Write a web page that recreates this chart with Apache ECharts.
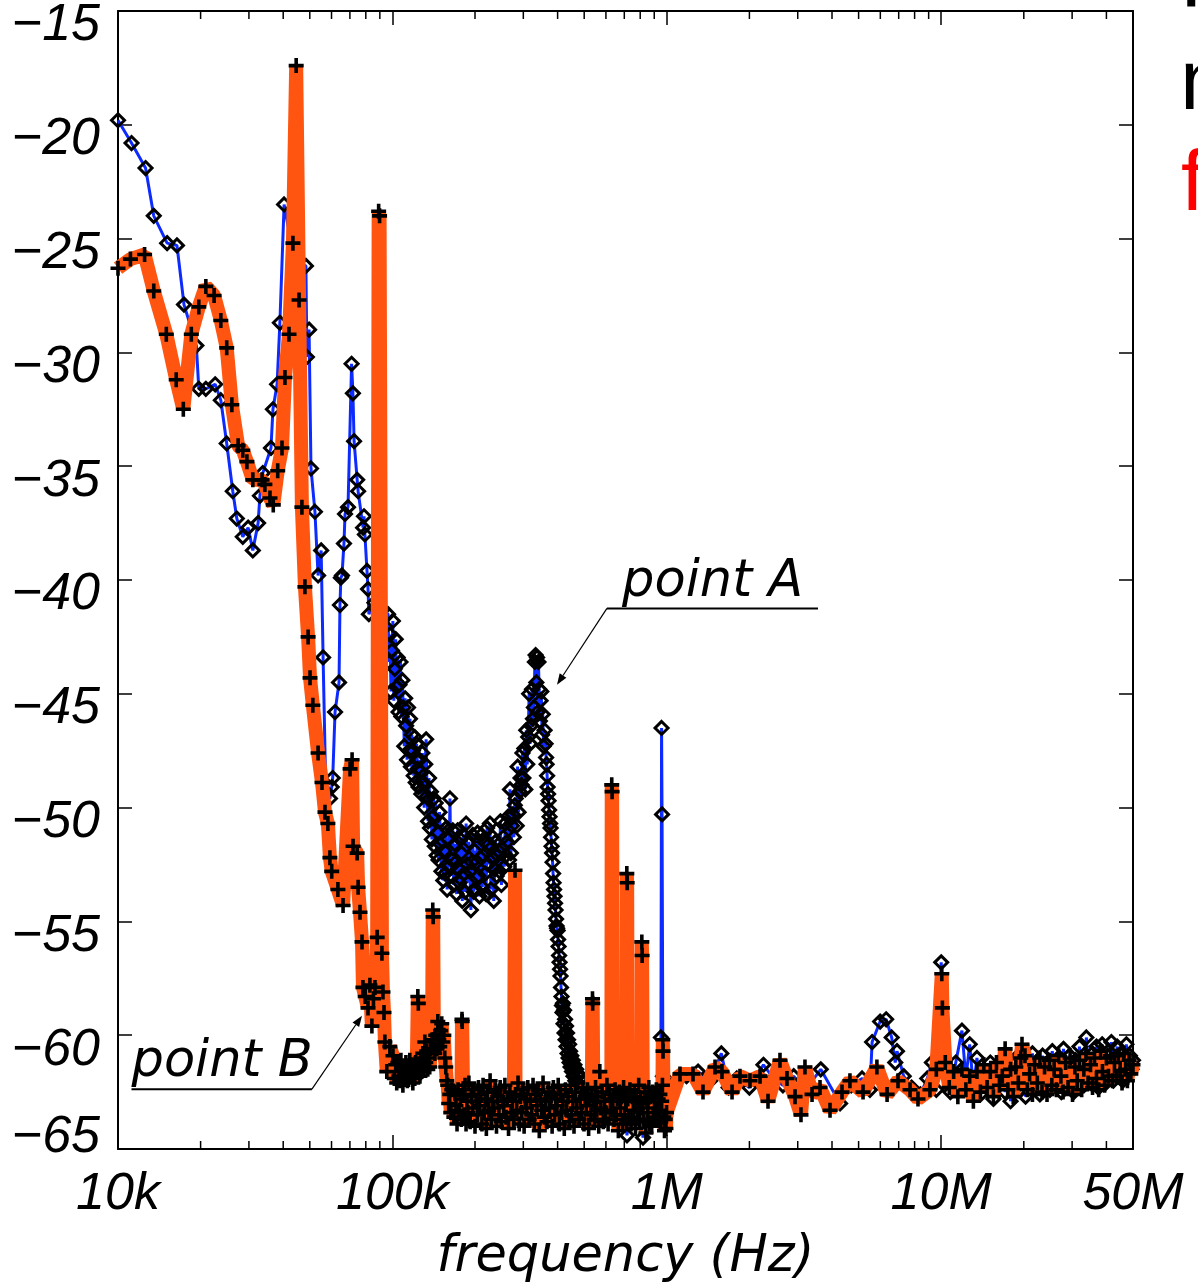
<!DOCTYPE html>
<html>
<head>
<meta charset="utf-8">
<script src="https://cdn.jsdelivr.net/npm/echarts@6/dist/echarts.min.js"></script>
<style>
  html, body { margin: 0; padding: 0; background: #ffffff; }
  #chart { width: 1198px; height: 1288px; }
</style>
</head>
<body>
<div id="chart"></div>
<script>
// Axis ranges and tick positions
const freqMin = 1e4;
const freqMax = 5e7;
const levelMin = -65;
const levelMax = -15;
const levelStep = 5;
const minorTickFreqs = [
  2e4, 3e4, 4e4, 5e4, 6e4, 7e4, 8e4, 9e4,
  2e5, 3e5, 4e5, 5e5, 6e5, 7e5, 8e5, 9e5,
  2e6, 3e6, 4e6, 5e6, 6e6, 7e6, 8e6, 9e6,
  2e7, 3e7, 4e7
];

// Blue trace (diamonds): [frequency kHz, level dB]
const noiseA = [
  [10.0,-19.8],[11.2,-20.8],[12.6,-21.9],[13.5,-24.0],[15.1,-25.2],[16.4,-25.3],[17.4,-27.9],
  [19.3,-29.7],[19.7,-31.6],[20.9,-31.6],[22.6,-31.4],[23.7,-32.1],[24.9,-34.0],[26.2,-36.1],
  [27.1,-37.3],[28.5,-38.1],[29.8,-37.7],[31.0,-38.7],[32.4,-37.5],[32.9,-36.3],[33.7,-35.3],
  [36.1,-34.2],[36.7,-32.5],[38.0,-31.4],[38.9,-28.7],[40.3,-23.5],[44.0,-26.0],[48.4,-26.2],
  [48.8,-30.2],[49.7,-29.0],[50.5,-35.1],[52.2,-37.0],[53.6,-39.8],[55.0,-38.7],[55.9,-43.4],
  [57.2,-49.3],[59.2,-49.6],[60.1,-49.1],[60.6,-48.7],[61.8,-45.8],[63.9,-44.5],[64.4,-41.1],
  [64.9,-39.9],[65.5,-39.8],[66.6,-38.4],[67.2,-37.1],[68.9,-36.8],[71.0,-30.5],[71.8,-31.8],
  [72.5,-33.9],[74.4,-35.6],[75.0,-36.1],[78.2,-37.7],[78.8,-37.2],[79.4,-38.0],[80.8,-39.6],
  [81.5,-40.4],[82.1,-41.5],[86.0,-41.0],[92.0,-41.3],
  // resonance region around point A
  [96.4,-41.5],[97.2,-43.6],[98.0,-42.4],[98.8,-44.9],[99.6,-43.1],[100.4,-41.8],[101.2,-45.3],
  [102.0,-43.9],[102.8,-42.6],[103.6,-44.7],[104.5,-43.4],[105.3,-45.8],[106.1,-44.6],[107.0,-43.6],
  [107.8,-46.0],[108.7,-44.4],[109.6,-45.6],[110.5,-47.3],[111.3,-45.2],[112.2,-46.4],[113.1,-47.9],
  [114.0,-45.6],[115.0,-47.5],[115.9,-46.1],[116.8,-48.2],[117.7,-46.8],[118.7,-47.5],[119.6,-48.6],
  [120.6,-46.9],[121.6,-48.9],[122.5,-47.2],[123.5,-48.3],[124.5,-49.1],[125.5,-47.9],[126.5,-48.4],
  [127.5,-49.4],[128.6,-47.6],[129.6,-48.9],[130.6,-50.0],[131.7,-48.1],[132.7,-47.0],[133.8,-49.5],
  [134.9,-50.6],[136.0,-48.7],[137.1,-50.9],[138.2,-49.3],[139.3,-51.4],[140.4,-50.4],[141.5,-49.6],
  [142.7,-51.7],[143.8,-49.8],[145.0,-52.1],[146.1,-51.1],[147.3,-52.3],[148.5,-50.2],[149.7,-51.6],
  [150.9,-52.8],[152.1,-50.7],[153.3,-53.2],[154.5,-51.9],[155.8,-52.9],[157.0,-50.9],[158.3,-53.6],
  [159.5,-51.4],[160.8,-52.6],[162.1,-49.6],[163.4,-53.0],[164.7,-52.3],[166.0,-51.0],[167.3,-53.4],
  [168.7,-51.6],[170.0,-52.4],[171.4,-53.8],[172.8,-51.0],[174.2,-52.7],[175.6,-53.3],[177.0,-51.4],
  [178.4,-52.0],[179.8,-54.1],[181.2,-51.2],[182.7,-52.9],[184.1,-53.7],[185.6,-50.7],[187.1,-52.5],
  [188.6,-53.3],[190.1,-51.5],[191.6,-52.8],[193.2,-54.5],[194.7,-52.4],[196.3,-51.2],[197.8,-53.7],
  [199.4,-51.9],[201.0,-53.6],[202.6,-52.4],[204.3,-51.1],[205.9,-53.0],[207.6,-53.9],[209.2,-52.2],
  [210.9,-51.2],[212.6,-53.5],[214.3,-52.1],[216.0,-51.5],[217.8,-52.9],[219.5,-53.8],[221.3,-50.9],
  [223.1,-52.5],[224.9,-51.6],[226.7,-50.7],[228.5,-53.6],[230.3,-52.2],[232.2,-51.3],[234.1,-54.1],
  [235.9,-52.7],[237.8,-51.5],[239.8,-53.0],[241.7,-52.1],[243.6,-51.9],[245.6,-52.8],[247.6,-50.6],
  [249.6,-53.4],[251.6,-51.8],[253.6,-51.3],[255.7,-52.6],[257.7,-50.7],[259.8,-52.1],[261.9,-51.5],
  [264.0,-50.4],[266.1,-52.3],[268.3,-49.2],[270.4,-52.0],[272.6,-50.8],[274.8,-50.3],[277.0,-51.3],
  [279.2,-49.9],[281.5,-49.6],[283.8,-50.8],[286.0,-48.2],[288.3,-50.2],[290.7,-49.3],[293.0,-48.7],
  [295.4,-49.0],[297.8,-47.6],[300.2,-48.7],[302.6,-47.4],[305.0,-49.2],[307.5,-46.6],[310.0,-48.1],
  [312.5,-46.9],[315.0,-45.0],[317.5,-47.2],[320.1,-46.4],[322.7,-44.8],[325.3,-46.1],[327.9,-45.6],
  [330.6,-43.6],[332.6,-43.3],[334.6,-44.5],[336.6,-43.4],[338.6,-45.8],[340.6,-43.6],[342.6,-44.8],
  [344.7,-46.2],[346.8,-45.3],[348.9,-44.9],[351.0,-46.8],[353.1,-45.9],[355.6,-47.3],[358.6,-46.6],
  [361.6,-47.2],[363.2,-47.8],[364.7,-48.1],[366.3,-48.6],[367.8,-49.1],[369.3,-49.4],[370.8,-49.7],
  [372.4,-50.1],[373.9,-50.4],[375.5,-50.7],[377.1,-50.9],[378.7,-51.3],[380.3,-51.7],[381.9,-52.0],
  [383.5,-52.4],[385.1,-52.9],[386.7,-53.3],[388.3,-53.6],[389.9,-53.9],[391.6,-54.2],[393.2,-54.5],
  [394.9,-54.9],[396.6,-55.2],[398.3,-55.3],[400.0,-55.4],[401.6,-55.8],[403.3,-56.1],[405.0,-56.5],
  [406.6,-56.8],[408.3,-57.1],[410.0,-57.4],[411.7,-57.9],[413.4,-58.3],[415.1,-58.7],[416.8,-59.0],
  [418.6,-58.6],[420.4,-59.5],[422.2,-58.9],[424.0,-59.9],[425.8,-59.3],[427.6,-60.2],[429.4,-59.6],
  [431.2,-60.5],[433.0,-59.9],[434.9,-60.8],[436.7,-60.2],[438.6,-61.0],[440.5,-60.4],[442.3,-61.2],
  [444.2,-60.7],[446.0,-61.4],[448.8,-60.9],[451.5,-61.6],[454.2,-61.1],[457.0,-61.8],[460.5,-61.3],
  [464.0,-62.0],[467.5,-61.5],[471.0,-62.1],[475.5,-61.7],[480.0,-62.3],[485.0,-61.9],[490.0,-62.4],
  [500.0,-62.1],[512.0,-62.5],
  [524,-62.9],[538,-63.3],[552,-62.6],[566,-63.6],[580,-62.8],[595,-63.2],[610,-62.7],[625,-63.5],
  [640,-62.9],[655,-63.4],[670,-62.8],[685,-63.7],[700,-62.9],[716,-64.4],[730,-63.1],[745,-62.7],
  [760,-63.5],[775,-62.9],[790,-63.3],[805,-62.8],[819,-64.5],[835,-63.2],[850,-62.7],[866,-63.4],
  [882,-62.9],[898,-63.6],[914,-62.8],[930,-63.2],[945,-62.9],[952,-60.1],[957,-46.5],[961,-50.3],
  [968,-61.8],[980,-63.1],[990,-63.0],
  // 1 MHz and above
  [1080,-62.0],[1180,-61.8],[1300,-61.6],[1440,-62.0],[1580,-60.8],[1680,-62.3],[1800,-61.9],
  [2000,-62.3],[2250,-61.3],[2450,-61.9],[2650,-62.2],[2900,-61.8],[3200,-62.4],[3640,-61.5],
  [4280,-63.0],[4700,-62.2],[5150,-61.9],[5500,-62.4],[5600,-60.3],[5990,-59.4],[6300,-59.3],
  [6600,-60.1],[6800,-61.2],[6900,-60.7],[7300,-61.8],[7800,-62.3],[8400,-62.6],[8900,-61.9],
  [9250,-61.2],[9600,-62.4],[10000,-56.8],[10400,-61.6],[10800,-62.5],[11300,-61.2],[11900,-59.8],
  [12300,-61.9],[12700,-60.4],[13100,-62.3],[13500,-61.0],[13900,-62.6],[14300,-61.5],[14700,-62.1],
  [15100,-61.2],[15500,-62.8],[15900,-61.6],[16300,-62.0],[16700,-61.1],[17100,-62.5],[17500,-61.4],
  [17900,-62.9],[18300,-61.3],[18700,-62.2],[19100,-60.9],[19500,-62.4],[19900,-61.6],[20300,-62.7],
  [20700,-61.2],[21100,-62.0],[21500,-60.8],[21900,-62.3],[22400,-61.4],[22900,-62.6],[23400,-60.9],
  [23900,-61.9],[24400,-61.2],[24900,-62.4],[25400,-60.7],[25900,-61.8],[26400,-62.2],[26900,-61.0],
  [27400,-62.5],[27900,-60.6],[28400,-61.7],[28900,-62.1],[29400,-60.9],[29900,-61.6],[30400,-62.5],
  [30900,-61.1],[31400,-62.0],[31900,-60.5],[32500,-61.8],[33100,-62.2],[33800,-60.1],[34400,-61.4],
  [35000,-62.1],[35600,-60.8],[36200,-61.9],[36800,-60.5],[37400,-62.3],[38000,-61.2],[38600,-60.4],
  [39200,-61.7],[39800,-62.1],[40400,-60.9],[41000,-61.5],[41700,-60.3],[42400,-62.0],[43100,-61.0],
  [43800,-60.5],[44500,-61.8],[45200,-60.8],[45900,-62.0],[46600,-61.1],[47300,-60.4],[48000,-61.7],
  [48700,-60.9],[49400,-61.5],[50000,-61.1]
];

// Orange trace (crosses): [frequency kHz, level dB]
const noiseB = [
  [10.0,-26.3],[11.1,-25.9],[12.5,-25.7],[13.5,-27.3],[15.0,-29.2],[16.3,-31.2],[17.3,-32.5],
  [18.5,-29.2],[19.7,-28.0],[20.9,-27.1],[22.4,-27.5],[23.7,-28.6],[24.9,-29.8],[26.0,-32.3],
  [27.4,-34.1],[28.5,-34.3],[29.5,-34.8],[31.0,-35.6],[33.5,-35.6],[34.3,-35.8],[35.8,-36.4],
  [36.8,-36.7],[38.2,-35.2],[39.6,-34.2],[40.6,-31.1],[42.0,-29.2],[43.4,-25.2],[44.6,-17.4],
  [45.7,-27.7],[46.8,-36.8],[48.0,-40.3],[49.3,-42.5],[50.1,-44.3],[51.3,-45.5],[53.6,-47.6],
  [55.4,-48.9],[56.8,-50.2],[58.2,-50.7],[59.2,-52.2],[60.1,-52.8],[63.3,-53.6],[66.1,-54.3],
  [70.1,-48.3],[71.3,-47.9],[71.9,-51.7],[74.4,-52.0],[75.0,-53.5],[76.2,-54.6],[77.5,-55.9],
  [78.1,-57.9],[79.6,-58.3],[81.5,-58.8],[82.8,-57.8],[84.2,-59.6],[85.3,-58.4],[86.4,-57.9],
  [88.0,-55.7],[89.1,-23.8],[89.8,-24.0],[91.6,-56.4],[92.4,-58.1],[93.2,-59.0],[93.9,-60.3],
  [95.4,-61.6],[97.9,-60.5],
  // plateau just above 100 kHz
  [100.5,-60.9],[101.6,-61.9],[102.8,-61.3],[103.7,-62.1],[104.7,-61.2],[105.6,-61.8],[106.5,-62.0],
  [107.4,-61.1],[108.3,-61.6],[109.2,-62.2],[110.1,-61.4],[111.0,-61.9],[112.0,-61.2],[113.4,-62.0],
  [114.8,-61.5],[115.7,-61.1],[116.6,-61.8],[117.6,-61.3],[118.7,-62.1],[119.7,-61.4],[120.7,-61.9],
  [121.6,-61.2],[122.6,-61.6],[123.8,-58.3],[124.3,-58.6],[124.9,-61.3],[126.0,-61.8],[127.0,-61.0],
  [128.0,-61.6],[129.1,-60.8],[130.2,-61.5],[131.3,-60.3],[132.4,-61.2],[133.5,-60.7],[134.6,-61.5],
  [135.8,-61.0],[136.8,-61.4],[137.9,-60.6],[139.5,-60.2],[140.3,-54.5],[140.8,-54.8],[141.6,-60.2],
  [142.7,-60.8],[143.9,-60.0],[145.1,-60.6],[146.4,-59.4],[147.6,-60.2],[148.8,-60.5],[150.0,-59.8],
  [151.3,-59.5],[152.6,-60.3],[154.0,-60.0],[155.2,-61.0],[156.5,-61.4],[157.8,-62.0],[159.1,-62.2],
  [160.4,-63.0],[161.8,-62.6],[163.2,-63.4],[164.6,-62.4],
  // floor 165 kHz – 1 MHz
  [167.5,-63.6],[169,-62.5],[170.5,-63.1],[172,-63.9],[173.5,-62.4],[175,-63.3],[177,-62.8],
  [178.3,-63.7],[179.3,-59.3],[179.6,-59.4],[181,-62.6],[182.5,-63.5],[184,-62.2],[185.5,-63.9],
  [187,-62.9],[188.5,-63.4],[190,-62.1],[192,-63.8],[194,-62.7],[196,-63.2],[198,-62.4],[200,-64.0],
  [202,-62.9],[204,-63.5],[206,-62.3],[208,-63.1],[210,-62.6],[212,-63.9],[214,-62.2],[216,-63.4],
  [218,-62.8],[220,-64.1],[222,-62.5],[224.5,-63.3],[227,-62.0],[229.5,-63.7],[232,-62.9],
  [234.5,-63.2],[237,-62.4],[239.5,-64.0],[242,-62.7],[244.5,-63.5],[247,-62.3],[249.5,-63.8],
  [252,-62.9],[254.5,-63.1],[257,-62.2],[259.5,-63.6],[262,-62.8],[265,-64.1],[268,-62.5],
  [271,-63.4],[274,-62.9],[277,-63.7],[279.8,-52.75],[281,-62.6],[284,-63.3],[287,-62.1],
  [290,-63.9],[293,-62.7],[296,-63.4],[299,-62.4],[302,-64.0],[305,-62.8],[308,-63.2],[311.5,-62.3],
  [315,-63.7],[318.5,-62.9],[322,-63.5],[325.5,-62.2],[329,-63.9],[332.5,-62.6],[336,-63.1],
  [339.5,-62.4],[343,-64.2],[346.5,-62.8],[350,-63.3],[354,-62.1],[358,-63.6],[362,-62.9],
  [366,-63.8],[370,-62.5],[374,-63.2],[378,-62.7],[382,-64.0],[386,-62.3],[390,-63.5],[394,-62.8],
  [398,-63.1],[402,-62.2],[406,-63.9],[410,-62.6],[414,-63.4],[418.5,-62.9],[423,-64.1],
  [427.5,-62.4],[432,-63.3],[436.5,-62.7],[441,-63.8],[445.5,-62.2],[450,-63.5],[454.5,-62.9],
  [459,-64.0],[464,-62.5],[469,-63.2],[474,-62.1],[479,-63.7],[484,-62.8],[489,-63.4],[494,-62.3],
  [499,-63.9],[504,-62.7],[509,-63.1],[514,-62.4],[519,-64.1],[524,-62.8],[529,-63.5],[533,-62.6],
  [536,-58.4],[537,-58.6],[540,-62.9],[545,-63.7],[550,-62.3],[555,-63.3],[560,-62.7],[565,-64.0],
  [570,-61.6],[575,-63.2],[581,-62.5],[587,-63.8],[593,-62.9],[599,-63.4],[605,-62.2],[611,-63.9],
  [617,-62.6],[623,-63.3],[628,-62.8],[630,-49.0],[632,-49.3],[636,-62.9],[642,-63.7],[648,-62.4],
  [654,-63.5],[660,-62.8],[666,-64.2],[672,-62.5],[678,-63.2],[684,-62.7],[690,-63.9],[696,-62.3],
  [702,-63.5],[708,-62.9],[713,-63.8],[715,-52.9],[717,-53.3],[721,-62.8],[727,-63.6],[734,-62.4],
  [741,-63.9],[748,-62.7],[755,-63.3],[762,-62.5],[769,-64.1],[776,-62.8],[783,-63.4],[790,-62.2],
  [797,-63.7],[804,-62.9],[809,-63.2],[811,-55.9],[813,-56.5],[818,-63.0],[825,-63.8],[832,-62.5],
  [839,-64.3],[846,-62.8],[853,-63.4],[860,-62.3],[867,-63.9],[874,-62.7],[881,-64.0],[888,-62.5],
  [895,-63.6],[902,-62.9],[909,-63.2],[916,-62.4],[923,-63.7],[930,-62.8],[937,-63.3],[944,-62.6],
  [951,-63.8],[958,-62.9],[964,-62.2],[967,-60.2],[969,-60.7],[975,-63.6],[981,-64.2],[987,-63.7],
  [993,-64.1],[998,-63.4],
  // 1 MHz and above
  [1117,-61.7],[1246,-61.7],[1355,-62.5],[1499,-61.4],[1589,-61.6],[1729,-62.5],[1848,-61.8],
  [2010,-62.0],[2187,-61.8],[2338,-62.9],[2585,-61.1],[2742,-61.9],[2934,-62.7],[3083,-63.5],
  [3188,-61.4],[3383,-62.6],[3617,-62.3],[3934,-63.3],[4350,-62.5],[4650,-62.0],[5190,-62.5],
  [5830,-61.4],[6350,-62.6],[6960,-62.0],[7700,-62.4],[8230,-62.8],[9100,-62.4],[9600,-61.5],
  [10050,-57.3],[10100,-58.8],[10350,-61.2],[10700,-62.3],[11100,-61.6],[11500,-62.7],[11900,-61.5],
  [12300,-62.4],[12700,-61.8],[13100,-62.9],[13500,-61.6],[13900,-62.5],[14300,-61.3],[14700,-62.3],
  [15100,-61.6],[15500,-62.7],[15900,-61.2],[16300,-62.2],[16700,-61.8],[17100,-60.6],[17500,-62.4],
  [17900,-61.5],[18300,-62.7],[18700,-61.4],[19100,-62.1],[19500,-61.0],[19700,-60.4],[20200,-60.9],
  [20600,-62.4],[21000,-61.7],[21500,-62.6],[21900,-61.3],[22400,-62.1],[22900,-61.0],[23300,-62.5],
  [23800,-61.4],[24300,-62.6],[24800,-61.1],[25300,-62.2],[25800,-61.5],[26300,-62.4],[26800,-60.9],
  [27300,-61.8],[27800,-62.5],[28400,-61.2],[29000,-62.3],[29500,-61.0],[30100,-62.6],[30700,-61.4],
  [31300,-62.0],[31900,-61.1],[32500,-62.4],[33100,-61.5],[33700,-60.8],[34300,-62.1],[35000,-61.3],
  [35600,-62.3],[36200,-61.0],[36800,-61.9],[37500,-62.4],[38100,-60.7],[38700,-61.6],[39400,-62.2],
  [40000,-61.0],[40700,-61.8],[41400,-60.9],[42100,-62.0],[42800,-61.2],[43500,-61.8],[44200,-60.9],
  [44900,-61.6],[45600,-62.1],[46300,-60.8],[47000,-61.5],[47700,-62.0],[48400,-61.1],[49100,-61.7],
  [50000,-61.3]
];

// Callout anchors in data space: [frequency Hz, level dB]
const calloutA = { text: 'point A', textAt: [6.87e5, -40.8], lineEnd: [3.556e6, -41.25], corner: [6.05e5, -41.25], tip: [3.98e5, -44.6] };
const calloutB = { text: 'point B', textAt: [1.12e4, -61.85], lineEnd: [1.12e4, -62.37], corner: [5.09e4, -62.37], tip: [7.75e4, -59.14] };

const LABEL_FONT = '"Liberation Sans", Arial, sans-serif';
const WORD_FONT = '"DejaVu Sans", sans-serif';
const PLUS = 'path://M3.8,0H6.2V3.8H10V6.2H6.2V10H3.8V6.2H0V3.8H3.8Z';

const toHz = rows => rows.map(([k, db]) => [k * 1e3, db]);
const freqLabel = v => {
  const r = Math.round(v);
  return r >= 1e6 ? (r / 1e6) + 'M' : (r / 1e3) + 'k';
};

const chart = echarts.init(document.getElementById('chart'), null, { renderer: 'canvas' });

const frameLine = { show: true, lineStyle: { color: '#000', width: 2 } };
const tickStyle = { show: true, inside: true, length: 14, lineStyle: { color: '#000', width: 1.5 } };
const labelStyle = { fontFamily: LABEL_FONT, fontStyle: 'italic', fontSize: 52, color: '#000' };

chart.setOption({
  animation: false,
  backgroundColor: '#ffffff',
  grid: { left: 118, right: 65, top: 7, bottom: 138, containLabel: false },
  xAxis: [
    {
      type: 'log', logBase: 10, min: freqMin, max: freqMax, position: 'bottom',
      axisLine: frameLine, axisTick: tickStyle,
      axisLabel: Object.assign({ formatter: freqLabel, margin: 20, showMinLabel: true, showMaxLabel: true }, labelStyle),
      splitLine: { show: false },
      name: 'frequency (Hz)', nameLocation: 'middle', nameGap: 83,
      nameTextStyle: { fontFamily: WORD_FONT, fontStyle: 'italic', fontSize: 51, color: '#000' }
    },
    {
      type: 'log', logBase: 10, min: freqMin, max: freqMax, position: 'top',
      axisLine: frameLine, axisTick: tickStyle,
      axisLabel: { show: false }, splitLine: { show: false }
    }
  ],
  yAxis: [
    {
      type: 'value', min: levelMin, max: levelMax, interval: levelStep, position: 'left',
      axisLine: frameLine, axisTick: tickStyle,
      axisLabel: {
        margin: 18, showMinLabel: true, showMaxLabel: true,
        formatter: v => (v === levelMin ? '{lo|' : '{hi|') + '\u2212' + Math.abs(v) + '}',
        rich: {
          hi: Object.assign({ padding: [30, 0, 0, 0] }, labelStyle),
          lo: Object.assign({ padding: [0, 0, 22, 0] }, labelStyle)
        }
      },
      splitLine: { show: false }
    },
    {
      type: 'value', min: levelMin, max: levelMax, interval: levelStep, position: 'right',
      axisLine: frameLine, axisTick: tickStyle,
      axisLabel: { show: false }, splitLine: { show: false }
    }
  ],
  series: [
    {
      name: 'trace A', type: 'line', xAxisIndex: 0, yAxisIndex: 0,
      data: toHz(noiseA),
      symbol: 'diamond', symbolSize: 13, showAllSymbol: true,
      lineStyle: { color: '#0d2bff', width: 3 },
      itemStyle: { color: 'rgba(255,255,255,0)', borderColor: '#000', borderWidth: 3 },
      emphasis: { disabled: true }, z: 3
    },
    {
      name: 'trace B', type: 'line', xAxisIndex: 0, yAxisIndex: 0,
      data: toHz(noiseB),
      symbol: PLUS, symbolSize: 15, showAllSymbol: true,
      lineStyle: { color: '#ff5511', width: 14, join: 'bevel', cap: 'butt' },
      itemStyle: { color: '#000' },
      emphasis: { disabled: true }, z: 4
    },
    {
      // decade sub-divisions on bottom and top edges
      name: 'minor ticks', type: 'custom', xAxisIndex: 0, yAxisIndex: 0,
      data: minorTickFreqs.map(f => [f]),
      clip: false, silent: true, z: 6,
      renderItem: (params, api) => {
        const f = api.value(0);
        const b = api.coord([f, levelMin]);
        const t = api.coord([f, levelMax]);
        const st = { stroke: '#000', lineWidth: 1.5 };
        return {
          type: 'group',
          children: [
            { type: 'line', shape: { x1: b[0], y1: b[1], x2: b[0], y2: b[1] - 8 }, style: st },
            { type: 'line', shape: { x1: t[0], y1: t[1], x2: t[0], y2: t[1] + 8 }, style: st }
          ]
        };
      }
    }
  ]
});

// Callouts: text, underline and arrow placed through the axis scales
function callout(c) {
  const px = p => chart.convertToPixel({ xAxisIndex: 0, yAxisIndex: 0 }, p);
  const t = px(c.textAt), e = px(c.lineEnd), k = px(c.corner), tip = px(c.tip);
  const ang = Math.atan2(tip[1] - k[1], tip[0] - k[0]);
  const L = 11, W = 4;
  const bx = tip[0] - L * Math.cos(ang), by = tip[1] - L * Math.sin(ang);
  const nx = -Math.sin(ang) * W, ny = Math.cos(ang) * W;
  return [
    { type: 'text', z: 20, style: { text: c.text, x: t[0], y: t[1] - 15, align: 'left', verticalAlign: 'middle',
      font: 'italic 51px ' + WORD_FONT, fill: '#000' } },
    { type: 'line', z: 20, shape: { x1: e[0], y1: e[1], x2: k[0], y2: k[1] }, style: { stroke: '#000', lineWidth: 2 } },
    { type: 'line', z: 20, shape: { x1: k[0], y1: k[1], x2: bx, y2: by }, style: { stroke: '#000', lineWidth: 1.2 } },
    { type: 'polygon', z: 20, shape: { points: [[tip[0], tip[1]], [bx + nx, by + ny], [bx - nx, by - ny]] }, style: { fill: '#000' } }
  ];
}

const edgeFont = '86px "Liberation Sans", Arial, sans-serif';
chart.setOption({
  graphic: [].concat(
    callout(calloutA),
    callout(calloutB),
    [
      { type: 'text', z: 20, style: { text: 'T', x: 1165, y: 9 - 27, verticalAlign: 'middle', font: edgeFont, fill: '#000' } },
      { type: 'text', z: 20, style: { text: 'n', x: 1180, y: 112 - 27, verticalAlign: 'middle', font: edgeFont, fill: '#000' } },
      { type: 'text', z: 20, style: { text: 'f', x: 1181, y: 213 - 27, verticalAlign: 'middle', font: edgeFont, fill: '#ff0000' } }
    ]
  )
});
</script>
</body>
</html>
